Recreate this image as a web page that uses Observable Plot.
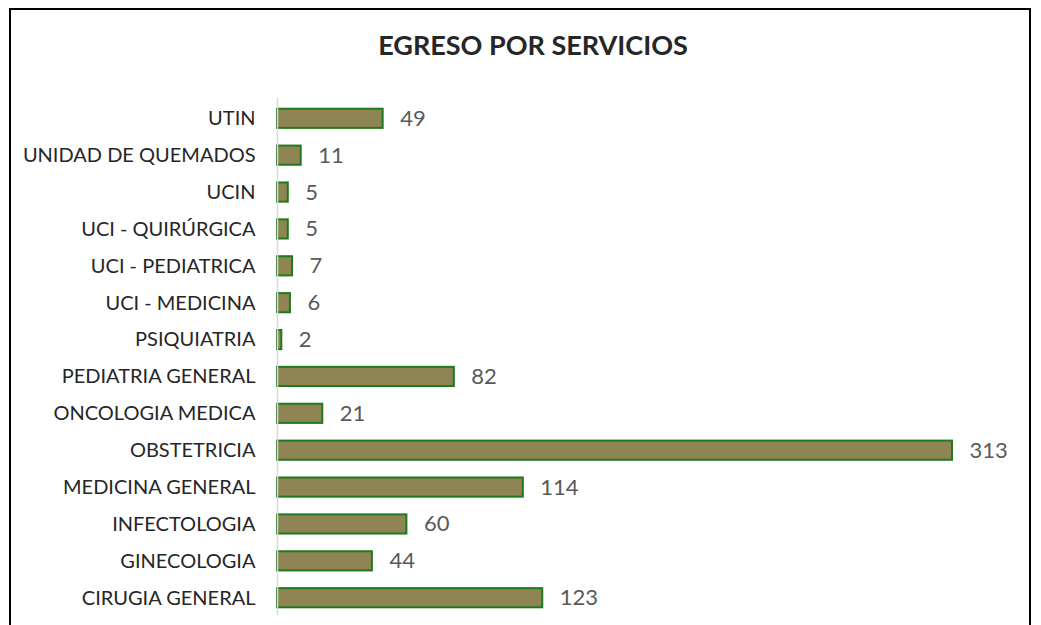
<!DOCTYPE html>
<html>
<head>
<meta charset="utf-8">
<script src="https://cdn.jsdelivr.net/npm/d3@7"></script>
<script src="https://cdn.jsdelivr.net/npm/@observablehq/plot@0.6"></script>
<style>
  html, body { margin: 0; padding: 0; background: #fff; }
  #wrap { position: relative; width: 1041px; height: 625px; overflow: hidden; font-family: Lato, "Open Sans", sans-serif; }
  #frame { position: absolute; left: 9px; top: 8px; width: 1022px; height: 640px; border: 2px solid #000; box-sizing: border-box; pointer-events: none; }
  #title { position: absolute; left: 0; width: 1066px; top: 28px; text-align: center; font-weight: bold; font-size: 27px; color: #262626; }
  #chart { position: absolute; left: 0; top: 0; }
</style>
</head>
<body>
<div id="wrap">
  <div id="title">EGRESO POR SERVICIOS</div>
  <div id="chart"></div>
  <div id="frame"></div>
</div>
<script>
const services = [
  "UTIN", "UNIDAD DE QUEMADOS", "UCIN", "UCI - QUIRÚRGICA", "UCI - PEDIATRICA",
  "UCI - MEDICINA", "PSIQUIATRIA", "PEDIATRIA GENERAL", "ONCOLOGIA MEDICA",
  "OBSTETRICIA", "MEDICINA GENERAL", "INFECTOLOGIA", "GINECOLOGIA", "CIRUGIA GENERAL"
];
const egresos = [49, 11, 5, 5, 7, 6, 2, 82, 21, 313, 114, 60, 44, 123];

const data = services.map((s, i) => ({service: s, value: egresos[i]}));

const chart = Plot.plot({
  width: 1041,
  height: 625,
  marginLeft: 277,
  marginRight: 89,
  marginTop: 91,
  marginBottom: 0,
  style: {fontFamily: "Lato, 'Open Sans', sans-serif", background: "transparent"},
  x: {domain: [0, 313], axis: null},
  y: {domain: services, padding: 0.48, round: false, label: null, tickSize: 0, tickPadding: 22},
  marks: [
    Plot.barX(data, {x: "value", y: "service", fill: "#8f8454", stroke: "#1f7a1f", strokeWidth: 2}),
    Plot.ruleX([0], {stroke: "#d9d9d9", strokeWidth: 1.5, insetTop: 7, insetBottom: 10}),
    Plot.axisY({tickSize: 0, tickPadding: 22, fontSize: 20, fill: "#262626", label: null}),
    Plot.text(data, {x: "value", y: "service", text: d => String(d.value), textAnchor: "start", dx: 17, fontSize: 22, fill: "#595959"})
  ]
});
document.getElementById("chart").appendChild(chart);
</script>
</body>
</html>
